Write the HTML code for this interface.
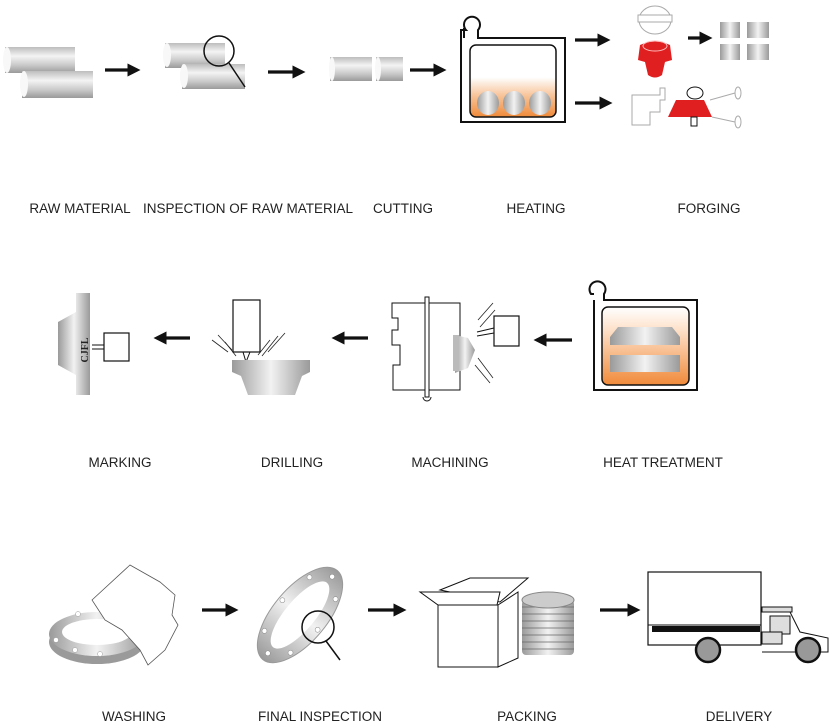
<!DOCTYPE html>
<html><head><meta charset="utf-8"><style>
html,body{margin:0;padding:0;background:#fff;}
svg{display:block}
text{font-family:"Liberation Sans",sans-serif;font-size:13.5px;fill:#222;text-anchor:middle}
</style></head><body>
<svg width="830" height="728" viewBox="0 0 830 728" xmlns="http://www.w3.org/2000/svg">
<defs>
<linearGradient id="cyl" x1="0" y1="0" x2="0" y2="1">
<stop offset="0" stop-color="#bdbdbd"/><stop offset="0.35" stop-color="#f4f4f4"/><stop offset="0.7" stop-color="#c9c9c9"/><stop offset="1" stop-color="#9a9a9a"/></linearGradient>
<linearGradient id="hz" x1="0" y1="0" x2="1" y2="0">
<stop offset="0" stop-color="#9a9a9a"/><stop offset="0.5" stop-color="#f2f2f2"/><stop offset="1" stop-color="#9a9a9a"/></linearGradient>
<linearGradient id="furn" x1="0" y1="0" x2="0" y2="1">
<stop offset="0" stop-color="#fff"/><stop offset="0.45" stop-color="#fff"/><stop offset="0.7" stop-color="#f8c49a"/><stop offset="1" stop-color="#f08a3a"/></linearGradient>
<linearGradient id="furn2" x1="0" y1="0" x2="0" y2="1">
<stop offset="0" stop-color="#fff"/><stop offset="0.3" stop-color="#fde0c8"/><stop offset="1" stop-color="#f08a3a"/></linearGradient>
<marker id="ah" markerWidth="4" markerHeight="4" refX="2" refY="2" orient="auto" markerUnits="strokeWidth"><path d="M0,0L4,2L0,4z" fill="#111"/></marker>
</defs>
<g stroke="#111" stroke-width="3.3" fill="none" marker-end="url(#ah)">
<line x1="105" y1="70" x2="134" y2="70"/>
<line x1="268" y1="72" x2="299" y2="72"/>
<line x1="410" y1="70" x2="440" y2="70"/>
<line x1="575" y1="40" x2="604" y2="40"/>
<line x1="575" y1="103" x2="606" y2="103"/>
<line x1="688" y1="38" x2="706" y2="38"/>
<line x1="190" y1="338" x2="160" y2="338"/>
<line x1="368" y1="338" x2="338" y2="338"/>
<line x1="572" y1="340" x2="540" y2="340"/>
<line x1="202" y1="610" x2="232" y2="610"/>
<line x1="368" y1="610" x2="400" y2="610"/>
<line x1="600" y1="610" x2="634" y2="610"/>
</g>
<!-- raw material -->
<rect x="5" y="47" width="70" height="26" fill="url(#cyl)"/><ellipse cx="7" cy="60" rx="4" ry="13" fill="#f8f8f8"/>
<rect x="22" y="71" width="71" height="27" fill="url(#cyl)"/><ellipse cx="24" cy="84" rx="4" ry="13" fill="#f8f8f8"/>
<!-- inspection -->
<rect x="165" y="43" width="60" height="25" fill="url(#cyl)"/><ellipse cx="167" cy="55" rx="4" ry="12" fill="#f8f8f8"/>
<rect x="182" y="64" width="63" height="25" fill="url(#cyl)"/><ellipse cx="184" cy="76" rx="4" ry="12" fill="#f8f8f8"/>
<circle cx="219" cy="51" r="15" fill="none" stroke="#111" stroke-width="1.5"/><line x1="229" y1="63" x2="245" y2="87" stroke="#111" stroke-width="1.5"/>
<!-- cutting -->
<rect x="330" y="57" width="42" height="24" fill="url(#cyl)"/><ellipse cx="332" cy="69" rx="3" ry="12" fill="#f8f8f8"/>
<rect x="376" y="57" width="27" height="24" fill="url(#cyl)"/><ellipse cx="378" cy="69" rx="3" ry="12" fill="#f8f8f8"/>
<!-- heating -->
<path d="M461,38 L461,122 L565,122 L565,38 L478,38 L478,30 A8,8 0 1 0 466,30 L461,30 Z" fill="none" stroke="#111" stroke-width="2"/>
<path d="M464,38 L464,28" stroke="#111" stroke-width="2"/>
<rect x="470" y="45" width="86" height="72" rx="6" fill="url(#furn)" stroke="#111" stroke-width="1.5"/>
<g fill="url(#hz)"><ellipse cx="488" cy="103" rx="11" ry="12"/><ellipse cx="514" cy="103" rx="11" ry="12"/><ellipse cx="540" cy="103" rx="11" ry="12"/></g>
<!-- forging -->
<ellipse cx="655" cy="20" rx="16" ry="14" fill="none" stroke="#aaa"/><rect x="638" y="15" width="34" height="7" fill="#fff" stroke="#aaa"/>
<path d="M640,45 Q655,38 670,45 L672,60 L665,62 L662,75 Q655,80 648,75 L645,62 L638,60 Z" fill="#e02020"/>
<ellipse cx="655" cy="46" rx="12" ry="5" fill="none" stroke="#fbb"/>
<rect x="720" y="22" width="20" height="16" fill="url(#hz)"/><rect x="747" y="22" width="22" height="16" fill="url(#hz)"/>
<rect x="720" y="44" width="20" height="16" fill="url(#hz)"/><rect x="747" y="44" width="22" height="16" fill="url(#hz)"/>
<path d="M632,95 L660,95 L660,88 L665,88 L665,100 L660,100 L660,112 L650,112 L650,125 L632,125 Z" fill="#fff" stroke="#aaa"/>
<path d="M676,100 L704,100 L712,117 L668,117 Z" fill="#e02020"/>
<ellipse cx="695" cy="93" rx="8" ry="6" fill="none" stroke="#111"/>
<rect x="691" y="117" width="6" height="9" fill="#fff" stroke="#111"/>
<g stroke="#aaa" fill="none"><line x1="710" y1="100" x2="735" y2="93"/><line x1="712" y1="117" x2="735" y2="122"/><ellipse cx="738" cy="93" rx="3" ry="6"/><ellipse cx="738" cy="122" rx="3" ry="6"/></g>
<!-- row 1 labels -->
<text x="80" y="213">RAW MATERIAL</text>
<text x="248" y="213">INSPECTION OF RAW MATERIAL</text>
<text x="403" y="213">CUTTING</text>
<text x="536" y="213">HEATING</text>
<text x="709" y="213">FORGING</text>
<!-- marking -->
<path d="M76,293 L90,293 L90,395 L76,395 L76,375 L58,365 L58,322 L76,312 Z" fill="url(#hz)"/>
<text x="0" y="0" transform="translate(88,350) rotate(-90)" style="font-family:'Liberation Serif',serif;font-size:10px;font-weight:bold">CJFL</text>
<rect x="104" y="333" width="25" height="28" fill="#fff" stroke="#111" stroke-width="1.2"/>
<g stroke="#111"><line x1="92" y1="345" x2="104" y2="345"/><line x1="92" y1="349" x2="104" y2="349"/></g>
<!-- drilling -->
<rect x="233" y="300" width="27" height="52" fill="#fff" stroke="#111" stroke-width="1.2"/>
<path d="M243,352 L246,362 L250,352" fill="none" stroke="#111"/><line x1="247" y1="362" x2="247" y2="372" stroke="#111"/>
<g stroke="#222" stroke-width="0.8"><line x1="212" y1="340" x2="228" y2="352"/><line x1="218" y1="335" x2="232" y2="350"/><line x1="225" y1="342" x2="236" y2="356"/><line x1="285" y1="333" x2="268" y2="352"/><line x1="278" y1="336" x2="262" y2="356"/><line x1="270" y1="340" x2="258" y2="355"/></g>
<path d="M232,360 L310,360 L310,372 L302,376 L295,395 L248,395 L241,376 L232,372 Z" fill="url(#hz)"/>
<!-- machining -->
<path d="M392,303 L460,303 L460,390 L393,390 L393,365 L400,365 L400,345 L392,345 L392,330 L398,330 L398,318 L392,318 Z" fill="#fff" stroke="#111"/>
<rect x="425" y="297" width="4" height="100" fill="#fff" stroke="#111"/>
<path d="M423,397 A4,4 0 0 0 431,397" fill="none" stroke="#111"/>
<path d="M455,335 L468,338 L475,350 L468,368 L455,373 Z" fill="url(#hz)"/><rect x="453" y="335" width="6" height="36" fill="#bbb"/>
<rect x="494" y="316" width="25" height="30" fill="#fff" stroke="#111" stroke-width="1.2"/>
<g stroke="#111"><line x1="477" y1="332" x2="494" y2="328"/><line x1="477" y1="336" x2="494" y2="333"/></g>
<g stroke="#222" stroke-width="0.8"><line x1="478" y1="320" x2="493" y2="303"/><line x1="480" y1="327" x2="495" y2="310"/><line x1="478" y1="358" x2="493" y2="378"/><line x1="475" y1="365" x2="490" y2="383"/></g>
<!-- heat treatment -->
<path d="M594,300 L594,390 L697,390 L697,300 L604,300 L604,294 A8,8 0 1 0 591,294 L594,294" fill="none" stroke="#111" stroke-width="2"/>
<rect x="602" y="307" width="87" height="78" rx="6" fill="url(#furn2)" stroke="#111" stroke-width="1.5"/>
<path d="M610,337 L618,327 L672,327 L680,337 L680,345 L610,345 Z" fill="url(#hz)"/>
<rect x="610" y="355" width="70" height="17" fill="url(#hz)"/>
<!-- row 2 labels -->
<text x="120" y="467">MARKING</text>
<text x="292" y="467">DRILLING</text>
<text x="450" y="467">MACHINING</text>
<text x="663" y="467">HEAT TREATMENT</text>
<!-- washing -->
<ellipse cx="97" cy="642" rx="48" ry="22" fill="#9a9a9a"/>
<ellipse cx="97" cy="634" rx="48" ry="22" fill="url(#hz)"/>
<ellipse cx="97" cy="632" rx="35" ry="13" fill="#fff"/>
<g fill="#fff" stroke="#999" stroke-width="0.5"><circle cx="75" cy="650" r="2.5"/><circle cx="100" cy="654" r="2.5"/><circle cx="56" cy="640" r="2.5"/><circle cx="78" cy="614" r="2.5"/></g>
<path d="M92,600 L130,565 L160,582 L175,595 L172,615 L178,625 L165,650 L148,665 L140,650 L122,630 L105,620 Z" fill="#fff" stroke="#555" stroke-width="0.8"/>
<!-- final inspection -->
<g transform="rotate(-50 300 615)"><ellipse cx="300" cy="615" rx="58" ry="27" fill="url(#hz)" stroke="#999"/><ellipse cx="300" cy="615" rx="42" ry="15" fill="#fff"/>
<g fill="#fff" stroke="#888" stroke-width="0.5"><circle cx="250" cy="615" r="2.5"/><circle cx="350" cy="615" r="2.5"/><circle cx="265" cy="598" r="2.5"/><circle cx="335" cy="632" r="2.5"/><circle cx="300" cy="592" r="2.5"/><circle cx="300" cy="638" r="2.5"/><circle cx="265" cy="632" r="2.5"/><circle cx="335" cy="598" r="2.5"/></g></g>
<circle cx="318" cy="627" r="16" fill="none" stroke="#111" stroke-width="1.5"/><line x1="326" y1="641" x2="340" y2="660" stroke="#111" stroke-width="1.5"/>
<!-- packing -->
<g fill="#fff" stroke="#111" stroke-width="1">
<path d="M440,590 L470,578 L528,578 L500,602 Z"/>
<path d="M420,592 L500,592 L497,605 L438,605 Z"/>
<rect x="438" y="605" width="60" height="62"/>
<path d="M498,605 L518,592 L518,658 L498,667 Z"/>
</g>
<g>
<rect x="522" y="600" width="52" height="55" rx="4" fill="url(#hz)"/>
<g stroke="#666" stroke-width="0.8"><line x1="522" y1="607" x2="574" y2="607"/><line x1="522" y1="614" x2="574" y2="614"/><line x1="522" y1="621" x2="574" y2="621"/><line x1="522" y1="628" x2="574" y2="628"/><line x1="522" y1="635" x2="574" y2="635"/><line x1="522" y1="642" x2="574" y2="642"/><line x1="522" y1="649" x2="574" y2="649"/></g>
<ellipse cx="548" cy="600" rx="26" ry="8" fill="#ccc" stroke="#888"/>
</g>
<!-- delivery -->
<rect x="648" y="572" width="113" height="73" fill="#fff" stroke="#111" stroke-width="1.2"/>
<line x1="648" y1="625" x2="761" y2="625" stroke="#111"/>
<rect x="652" y="626" width="108" height="6" fill="#111"/>
<path d="M762,610 L762,612 L790,612 L800,632 L828,638 L828,652 L800,652 L762,652" fill="#fff" stroke="#111"/>
<rect x="762" y="607" width="30" height="5" fill="#ddd" stroke="#111"/>
<rect x="770" y="616" width="20" height="18" fill="#ddd" stroke="#111"/>
<rect x="762" y="632" width="20" height="12" fill="#ddd" stroke="#111"/>
<circle cx="708" cy="650" r="12" fill="#999" stroke="#111" stroke-width="2.5"/>
<circle cx="808" cy="650" r="12" fill="#999" stroke="#111" stroke-width="2.5"/>
<!-- row 3 labels -->
<text x="134" y="721">WASHING</text>
<text x="320" y="721">FINAL INSPECTION</text>
<text x="527" y="721">PACKING</text>
<text x="739" y="721">DELIVERY</text>
</svg>
</body></html>
